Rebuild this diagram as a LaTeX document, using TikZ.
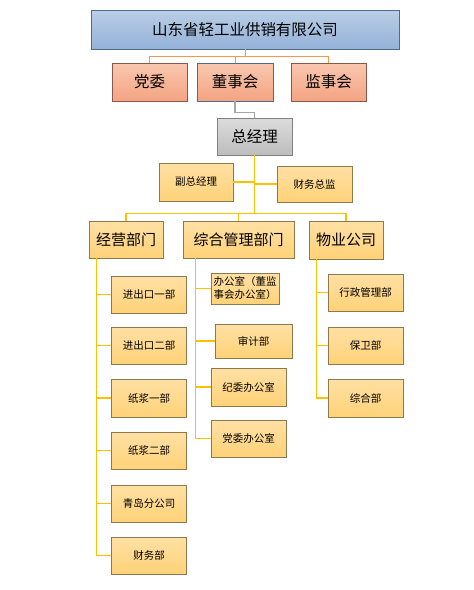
\documentclass[tikz,border=0pt]{standalone}
\usepackage{fontspec}
\setmainfont{Noto Sans CJK SC}
\definecolor{bluetop}{HTML}{BACEE6}
\definecolor{bluebot}{HTML}{94B2D8}
\definecolor{blueline}{HTML}{4F6B8C}
\definecolor{redtop}{HTML}{F9C7AF}
\definecolor{redbot}{HTML}{F4A482}
\definecolor{redline}{HTML}{8A5846}
\definecolor{greytop}{HTML}{DCDCDC}
\definecolor{greybot}{HTML}{BDBDBD}
\definecolor{yeltop}{HTML}{FFE0A4}
\definecolor{yelbot}{HTML}{FFD278}
\definecolor{yelline}{HTML}{8C7A4E}
\definecolor{orangeline}{HTML}{F79646}
\definecolor{goldline}{HTML}{FFC000}
\begin{document}
\begin{tikzpicture}[x=1pt, y=-1pt,
    box/.style={draw, line width=0.9pt, inner sep=0pt, text=black},
    topbox/.style={box, draw=blueline, top color=bluetop, bottom color=bluebot, font=\fontsize{15.5}{17}\selectfont},
    redbox/.style={box, draw=redline, top color=redtop, bottom color=redbot, font=\fontsize{15.5}{17}\selectfont},
    greybox/.style={box, draw=gray, top color=greytop, bottom color=greybot, font=\fontsize{15.5}{17}\selectfont},
    dept/.style={box, draw=yelline, top color=yeltop, bottom color=yelbot, font=\fontsize{15}{17}\selectfont},
    unit/.style={box, draw=yelline, top color=yeltop, bottom color=yelbot, font=\fontsize{10.5}{13}\selectfont},
    oline/.style={draw=orangeline, line width=1pt},
    gline/.style={draw=gray!70, line width=1.5pt},
    yline/.style={draw=goldline, line width=1.3pt}]
    \useasboundingbox (0,0) rectangle (474,590) ;

    % top levels
    \node [topbox, minimum width=308, minimum height=39] (top) at (245,29.5) {山东省轻工业供销有限公司} ;
    \node [redbox, minimum width=75, minimum height=38] (dw) at (149.5,82) {党委} ;
    \node [redbox, draw=blueline, minimum width=76, minimum height=38] (dsh) at (235,82) {董事会} ;
    \node [redbox, minimum width=75, minimum height=38] (jsh) at (328.5,82) {监事会} ;
    \node [greybox, minimum width=75, minimum height=37] (zjl) at (254.5,136.5) {总经理} ;
    \node [unit, minimum width=74, minimum height=38] (fzjl) at (196,182) {副总经理} ;
    \node [unit, minimum width=75, minimum height=36] (cwzj) at (314.5,184) {财务总监} ;

    % departments
    \node [dept, minimum width=74, minimum height=37] (jy) at (126,239.5) {经营部门} ;
    \node [dept, minimum width=111, minimum height=37] (zh) at (238.5,239.5) {综合管理部门} ;
    \node [dept, minimum width=74, minimum height=38] (wy) at (346,240) {物业公司} ;

    % units
    \node [unit, minimum width=75, minimum height=37] (ck1) at (149,294.5) {进出口一部} ;
    \node [unit, minimum width=75, minimum height=37] (ck2) at (149,345.5) {进出口二部} ;
    \node [unit, minimum width=75, minimum height=38] (zj1) at (149,398) {纸浆一部} ;
    \node [unit, minimum width=75, minimum height=37] (zj2) at (149,450.5) {纸浆二部} ;
    \node [unit, minimum width=75, minimum height=37] (qd) at (149,503.5) {青岛分公司} ;
    \node [unit, minimum width=75, minimum height=37] (cwb) at (149,555.5) {财务部} ;

    \node [unit, minimum width=68, minimum height=31, align=left] (bgs) at (245,288.5) {办公室（董监\\事会办公室）} ;
    \node [unit, minimum width=77, minimum height=34] (sj) at (253.5,341) {审计部} ;
    \node [unit, minimum width=75, minimum height=38] (jw) at (248.5,387) {纪委办公室} ;
    \node [unit, minimum width=75, minimum height=37] (dwb) at (248.5,438.5) {党委办公室} ;

    \node [unit, minimum width=75, minimum height=37] (xz) at (365.5,292.5) {行政管理部} ;
    \node [unit, minimum width=75, minimum height=37] (bw) at (365.5,345.5) {保卫部} ;
    \node [unit, minimum width=75, minimum height=38] (zhb) at (365.5,398) {综合部} ;

    % connectors
    \draw [oline] (top.south) -- ++(0,7.5) -| (dw.north) ;
    \draw [oline] (top.south) -- ++(0,7.5) -| (dsh.north) ;
    \draw [oline] (top.south) -- ++(0,7.5) -| (jsh.north) ;
    \draw [gline] (dsh.south) -- ++(0,11) -| (zjl.north) ;
    \draw [yline] (zjl.south) -- (fzjl.east -| zjl.south) -- (fzjl.east) ;
    \draw [yline] (zjl.south) -- (cwzj.west -| zjl.south) -- (cwzj.west) ;
    \foreach \d in {jy, zh, wy}
        \draw [yline] (zjl.south) -- ++(0,58) -| (\d.north) ;

    \coordinate (jyL) at ([xshift=8pt]jy.south west) ;
    \coordinate (zhL) at ([xshift=13pt]zh.south west) ;
    \coordinate (wyL) at ([xshift=8pt]wy.south west) ;
    \foreach \u in {ck1, ck2, zj1, zj2, qd, cwb}
        \draw [yline] (jyL) |- (\u.west) ;
    \foreach \u in {bgs, sj, jw, dwb}
        \draw [yline] (zhL) |- (\u.west) ;
    \foreach \u in {xz, bw, zhb}
        \draw [yline] (wyL) |- (\u.west) ;
\end{tikzpicture}
\end{document}
